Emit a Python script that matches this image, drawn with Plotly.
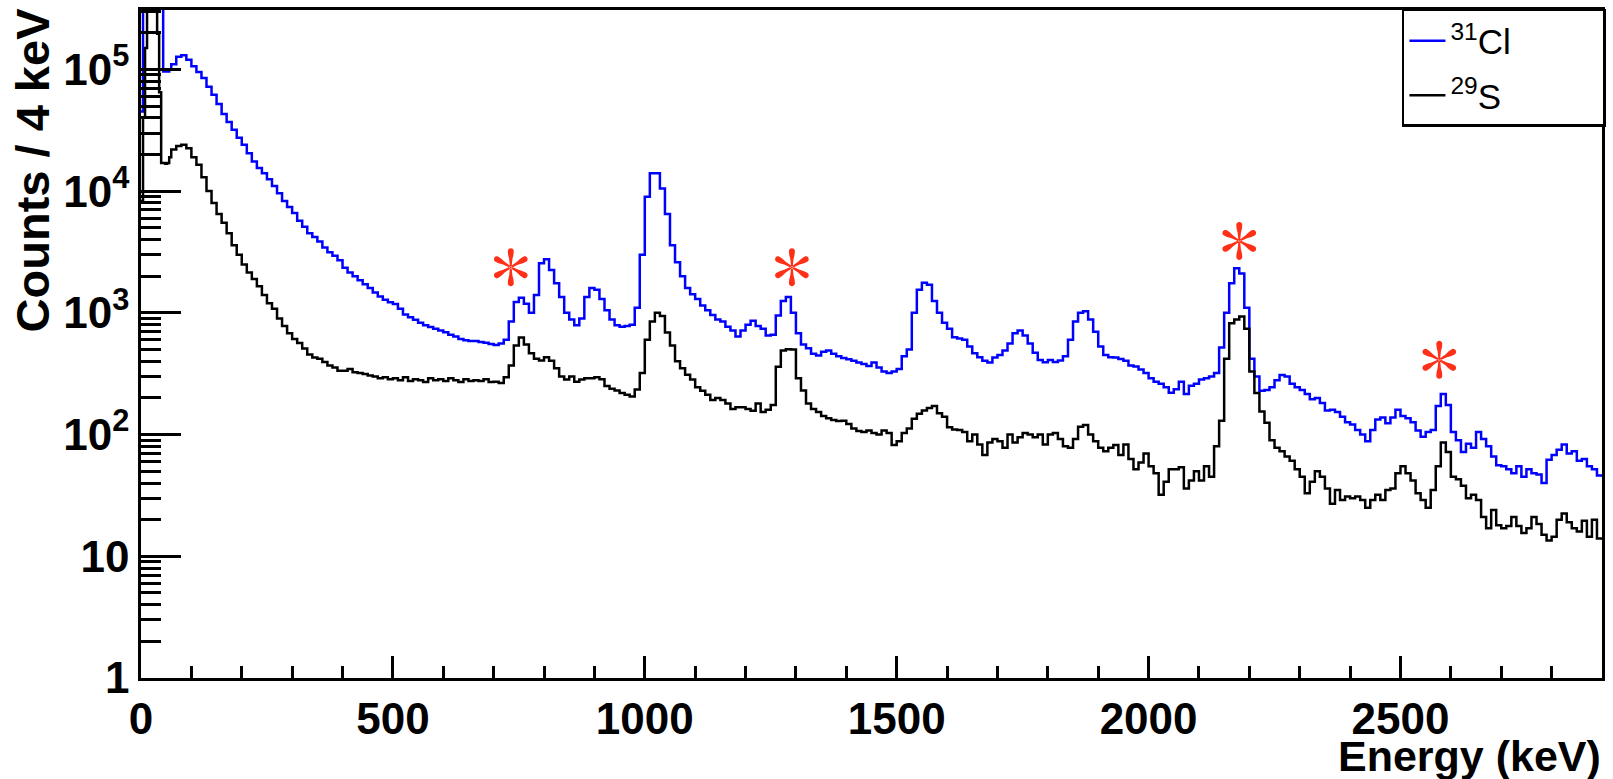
import numpy as np
import plotly.graph_objects as go

# ---------------- data ----------------
# low-energy part: 4-keV bins, left edges 0..56 keV
low_edges_keV = [0, 4, 8, 12, 16, 20, 24, 28, 32, 36, 40, 44, 48, 52, 56]
cl31_low = [4.5e4, 3.5e5, 3.5e5, 3.5e5, 3.5e5, 3.5e5, 3.5e5, 3.5e5, 3.5e5, 3.5e5,
            3.5e5, 9.6e4, 9.6e4, 9.6e4, 1.0e5]
s29_low = [8.3e3, 4.0e4, 1.5e5, 3.5e5, 3.5e5, 3.5e5, 3.5e5, 3.5e5, 1.96e5, 6.5e4,
           1.7e4, 1.7e4, 1.68e4, 1.7e4, 1.9e4]

# 10-keV bins, left edges 60..2890 keV
main_edges_keV = list(range(60, 2900, 10))
x_max_keV = 2900

cl31_counts = [
    1.1e5, 1.27e5, 1.31e5, 1.2e5,                                          # 60-90
    1.06e5, 9.5e4, 8.5e4, 7.2e4, 6.2e4, 5.2e4, 4.3e4, 3.7e4, 3.2e4, 2.75e4,  # 100
    2.4e4, 2.05e4, 1.75e4, 1.55e4, 1.4e4, 1.25e4, 1.1e4, 9.6e3, 8.3e3, 7.4e3,  # 200
    6.6e3, 5.7e3, 5.1e3, 4.5e3, 4.2e3, 3.85e3, 3.45e3, 3.15e3, 2.95e3, 2.7e3,  # 300
    2.35e3, 2.15e3, 2.0e3, 1.85e3, 1.72e3, 1.6e3, 1.47e3, 1.36e3, 1.28e3, 1.22e3,  # 400
    1.18e3, 1.08e3, 970, 920, 877, 830, 792, 765, 741, 715,                # 500
    693, 660, 640, 610, 594, 586, 586, 575, 567, 555,                      # 600
    545, 560, 600, 850, 1.23e3, 1.33e3, 1.19e3, 1.0e3, 1.4e3, 2.55e3,      # 700
    2.75e3, 2.25e3, 1.75e3, 1.35e3, 1.0e3, 880, 790, 900, 1.35e3, 1.6e3,   # 800
    1.55e3, 1.3e3, 1.05e3, 880, 790, 767, 780, 800, 1.1e3, 3.0e3,          # 900
    9.0e3, 1.4e4, 1.4e4, 1.05e4, 6.5e3, 3.6e3, 2.6e3, 2.0e3, 1.6e3, 1.42e3,  # 1000
    1.3e3, 1.15e3, 1.05e3, 960, 880, 850, 770, 717, 640, 717,              # 1100
    800, 860, 780, 740, 650, 660, 950, 1.25e3, 1.35e3, 1.0e3,              # 1200
    680, 550, 512, 462, 447, 480, 490, 462, 440, 425,                      # 1300
    415, 404, 391, 380, 365, 391, 355, 330, 321, 330,                      # 1400
    345, 440, 500, 1.0e3, 1.55e3, 1.77e3, 1.7e3, 1.25e3, 1.0e3, 830,       # 1500
    740, 630, 615, 600, 530, 465, 432, 404, 391, 430,                      # 1600
    450, 490, 560, 680, 715, 650, 560, 470, 410, 392,                      # 1700
    410, 395, 405, 440, 600, 850, 1.0e3, 1.03e3, 880, 700,                 # 1800
    530, 450, 432, 430, 418, 404, 370, 362, 342, 321,                      # 1900
    290, 271, 262, 245, 221, 236, 271, 215, 252, 262,                      # 2000
    283, 290, 300, 320, 520, 1.0e3, 1.75e3, 2.32e3, 2.1e3, 1.1e3,          # 2100
    420, 300, 229, 232, 245, 280, 309, 300, 262, 245,                      # 2200
    232, 215, 195, 200, 182, 158, 160, 153, 140, 126,                      # 2300
    121, 109, 100, 88, 109, 133, 138, 124, 138, 160,                       # 2400
    142, 136, 126, 108, 96, 105, 109, 172, 215, 175,                       # 2500
    105, 90, 72, 84, 78, 105, 92, 80, 66, 56,                              # 2600
    55, 52, 48, 55, 45, 52, 48, 47, 40, 62,                                # 2700
    68, 75, 83, 70, 73, 61, 63, 55, 52, 46,                                # 2800
]

s29_counts = [
    2.2e4, 2.35e4, 2.4e4, 2.25e4,                                          # 60-90
    1.9e4, 1.65e4, 1.3e4, 1.0e4, 8.0e3, 6.5e3, 5.5e3, 4.5e3, 3.6e3, 3.0e3,  # 100
    2.5e3, 2.15e3, 1.9e3, 1.65e3, 1.4e3, 1.2e3, 1.08e3, 900, 780, 680,     # 200
    610, 565, 510, 455, 430, 420, 395, 370, 355, 335,                      # 300
    335, 345, 325, 320, 315, 305, 300, 290, 295, 285,                      # 400
    290, 280, 295, 275, 285, 280, 270, 290, 280, 285,                      # 500
    275, 290, 280, 270, 285, 275, 280, 275, 285, 270,                      # 600
    272, 265, 295, 370, 540, 627, 550, 465, 420, 405,                      # 700
    432, 404, 350, 300, 283, 300, 271, 283, 290, 290,                      # 800
    295, 285, 250, 238, 230, 220, 212, 205, 235, 320,                      # 900
    600, 850, 1.0e3, 940, 690, 540, 400, 350, 310, 283,                    # 1000
    245, 229, 212, 192, 200, 192, 180, 162, 168, 168,                      # 1100
    162, 157, 180, 153, 160, 175, 360, 490, 503, 500,                      # 1200
    290, 230, 180, 162, 153, 142, 136, 132, 129, 130,                      # 1300
    122, 112, 107, 105, 108, 103, 100, 108, 103, 82,                       # 1400
    88, 103, 112, 135, 148, 158, 165, 172, 150, 140,                       # 1500
    115, 110, 109, 105, 88, 100, 83, 68, 86, 92,                           # 1600
    88, 78, 100, 86, 95, 103, 100, 95, 100, 83,                            # 1700
    100, 103, 92, 80, 78, 92, 116, 120, 100, 88,                           # 1800
    78, 73, 78, 82, 68, 83, 63, 52, 59, 70,                                # 1900
    55, 48, 32, 41, 52, 52, 54, 36, 42, 50,                                # 2000
    42, 55, 45, 80, 130, 420, 820, 880, 935, 740,                          # 2100
    330, 220, 155, 125, 90, 78, 73, 66, 61, 52,                            # 2200
    45, 33, 41, 50, 45, 36, 27, 35, 29, 31,                                # 2300
    30, 31, 29, 25, 29, 32, 29, 35, 36, 48,                                # 2400
    55, 48, 42, 33, 29, 25, 35, 55, 86, 72,                                # 2500
    45, 43, 38, 30, 32, 29, 21, 17, 24, 18,                                # 2600
    17, 17.7, 21, 17.7, 15.5, 17, 21, 18.4, 15, 13.5,                      # 2700
    14.5, 20, 22.5, 19, 17, 16, 19.6, 14.5, 20, 14,                        # 2800
]

# marked gamma lines (asterisks)
star_keV = [734, 1292, 2180, 2577]
star_counts = [2.37e3, 2.37e3, 3.9e3, 411]

y_tick_vals = [1, 10, 100, 1e3, 1e4, 1e5]
y_tick_text = ["1", "10", "10<sup>2</sup>", "10<sup>3</sup>", "10<sup>4</sup>", "10<sup>5</sup>"]
series_names = ["<sup>31</sup>Cl", "<sup>29</sup>S"]

assert len(cl31_counts) == len(main_edges_keV) == len(s29_counts)

# ---------------- figure ----------------
edges = low_edges_keV + main_edges_keV + [x_max_keV]


def step_y(low, main):
    vals = list(low) + list(main)
    return vals + [vals[-1]]


def asterisk_path():
    # six teardrop-shaped arms (pixel coordinates around the anchor)
    local = [(0.0, -0.8), (8.0, -1.6), (12.5, -2.7)]
    cap = [(16.0 + 3.0 * np.cos(a), 3.0 * np.sin(a))
           for a in np.linspace(-np.pi / 2, np.pi / 2, 9)]
    pts_local = local + cap + [(12.5, 2.7), (8.0, 1.6), (0.0, 0.8)]
    parts = []
    for ang in [90, 30, -30, -90, -150, 150]:
        t = np.deg2rad(ang)
        c, s = np.cos(t), np.sin(t)
        pts = [(u * c - v * s, u * s + v * c) for u, v in pts_local]
        parts.append("M " + " L ".join(f"{px:.2f},{py:.2f}" for px, py in pts) + " Z")
    return " ".join(parts)


FONT = "Liberation Sans"
pad = "\u00a0" * 9

fig = go.Figure()
fig.add_trace(go.Scatter(
    x=edges, y=step_y(cl31_low, cl31_counts), mode="lines", line_shape="hv",
    line=dict(color="#0000ff", width=2.5), name=series_names[0] + pad,
    legendgroup="a", hoverinfo="skip"))
fig.add_trace(go.Scatter(
    x=edges, y=step_y(s29_low, s29_counts), mode="lines", line_shape="hv",
    line=dict(color="#000000", width=2.5), name=series_names[1] + pad,
    legendgroup="b", hoverinfo="skip"))

star = asterisk_path()
for e, c in zip(star_keV, star_counts):
    fig.add_shape(type="path", xref="x", yref="y", xsizemode="pixel", ysizemode="pixel",
                  xanchor=e, yanchor=c, path=star, fillcolor="#ff3018",
                  line=dict(width=0), layer="above")

fig.add_annotation(text="Counts / 4 keV", textangle=-90, showarrow=False,
                   xref="paper", yref="paper", x=-0.074, y=1.0075,
                   xanchor="center", yanchor="top",
                   font=dict(family=FONT, size=47, weight="bold", color="black"))
fig.add_annotation(text="Energy (keV)", showarrow=False,
                   xref="paper", yref="paper", x=1.001, y=-0.078,
                   xanchor="right", yanchor="top",
                   font=dict(family=FONT, size=43, weight="bold", color="black"))

minor_y = [k * 10 ** d for d in range(0, 6) for k in range(2, 10)]

fig.update_layout(
    width=1613, height=779,
    margin=dict(l=141, r=10, t=7, b=101),
    paper_bgcolor="white", plot_bgcolor="white",
    showlegend=True,
    legend=dict(x=1.0027, y=1.0015, xanchor="right", yanchor="top",
                bgcolor="white", bordercolor="black", borderwidth=2.5,
                font=dict(family=FONT, size=35, color="black"),
                tracegroupgap=6, itemwidth=36),
    xaxis=dict(range=[0, x_max_keV], showgrid=False, zeroline=False,
               showline=True, linecolor="black", linewidth=2.5, mirror=True,
               ticks="inside", ticklen=22, tickwidth=2.5, tickcolor="black",
               tickmode="array", tickvals=[0, 500, 1000, 1500, 2000, 2500],
               tickfont=dict(family=FONT, size=44, weight="bold", color="black"),
               minor=dict(ticks="inside", ticklen=12, tickwidth=2.5, tickcolor="black",
                          dtick=100, showgrid=False)),
    yaxis=dict(type="log", range=[0, 5.488], showgrid=False, zeroline=False,
               showline=True, linecolor="black", linewidth=2.5, mirror=True,
               ticks="inside", ticklen=40, tickwidth=2.5, tickcolor="black",
               tickmode="array", tickvals=y_tick_vals, ticktext=y_tick_text,
               tickfont=dict(family=FONT, size=44, weight="bold", color="black"),
               minor=dict(ticks="inside", ticklen=20, tickwidth=2.5, tickcolor="black",
                          tickmode="array", tickvals=minor_y, showgrid=False)),
)

fig.write_html("out.html", config={"displayModeBar": False},
               post_script="document.body.style.margin='0';")
